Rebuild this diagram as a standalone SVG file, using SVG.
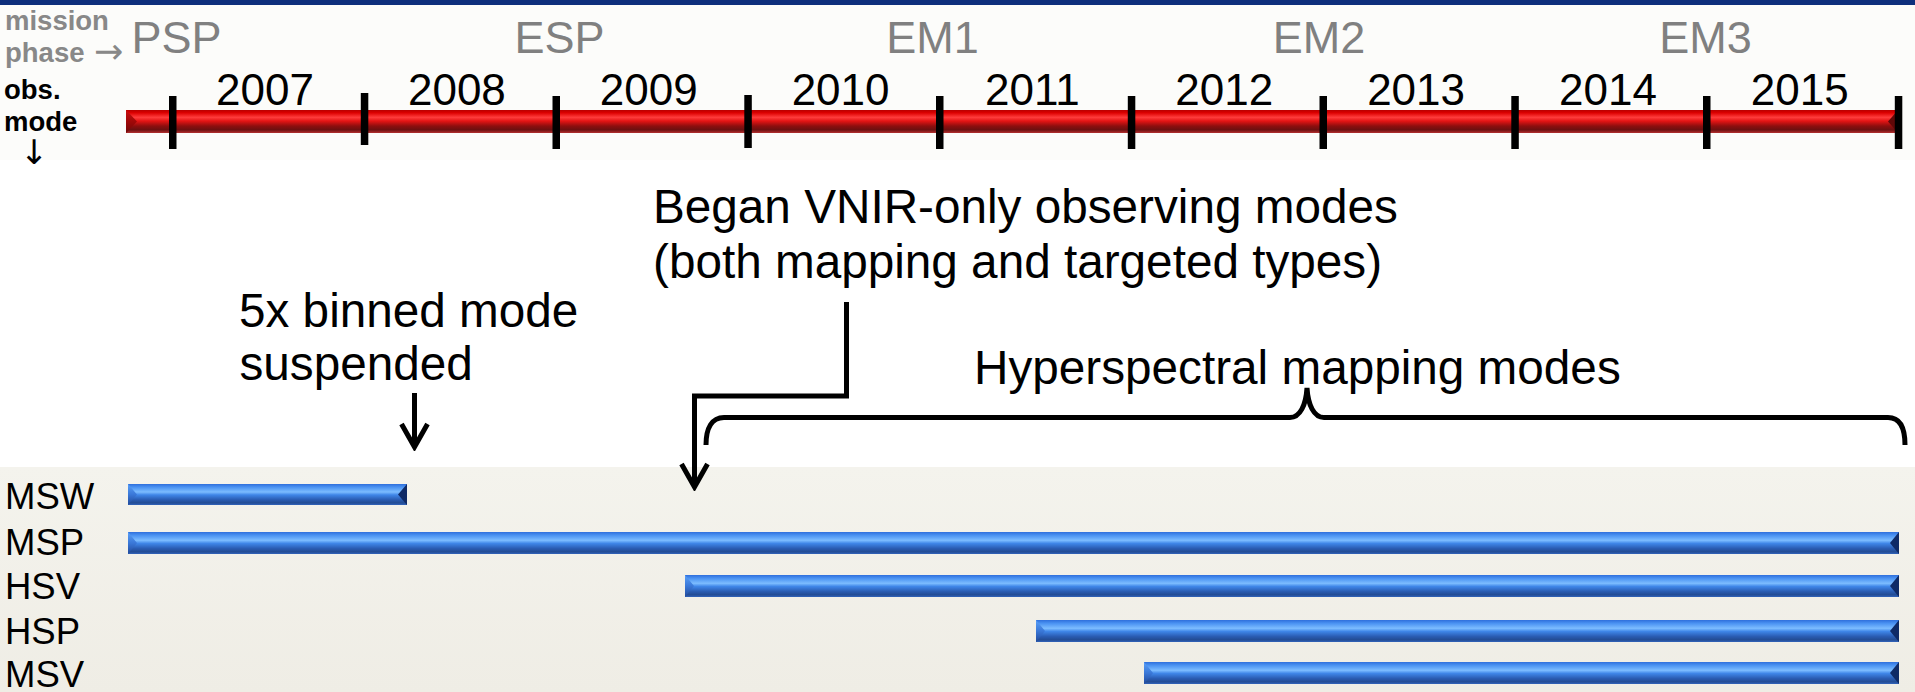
<svg xmlns="http://www.w3.org/2000/svg" width="1915" height="692" viewBox="0 0 1915 692">
<style>
.lbl{font-family:"Liberation Sans",Arial,sans-serif;}
.arrowtxt{font-family:"DejaVu Sans","Liberation Sans",sans-serif;font-weight:normal;}
.phase{font-family:"Liberation Sans",Arial,sans-serif;font-size:45px;fill:#808080;text-anchor:middle;}
.year{font-family:"Liberation Sans",Arial,sans-serif;font-size:44px;fill:#000;text-anchor:middle;}
.side{font-family:"Liberation Sans",Arial,sans-serif;font-size:27.5px;font-weight:bold;}
.ann{font-family:"Liberation Sans",Arial,sans-serif;font-size:47.7px;fill:#000;}
.mode{font-family:"Liberation Sans",Arial,sans-serif;font-size:36.5px;fill:#000;}
.tick{fill:#000;}
.bbar{fill:url(#blueG);}
.bl{fill:url(#blueL);}
.br{fill:#0f2a66;}
.conn{fill:none;stroke:#000;stroke-width:5;stroke-linejoin:miter;}
</style>
<defs>
<linearGradient id="redG" x1="0" y1="0" x2="0" y2="1">
<stop offset="0" stop-color="#b80000"/>
<stop offset="0.12" stop-color="#dc0000"/>
<stop offset="0.32" stop-color="#ff3c3c"/>
<stop offset="0.48" stop-color="#e41414"/>
<stop offset="0.7" stop-color="#8c0e0e"/>
<stop offset="0.86" stop-color="#6c1010"/>
<stop offset="1" stop-color="#b43030"/>
</linearGradient>
<linearGradient id="redL" x1="0" y1="0" x2="0" y2="1">
<stop offset="0" stop-color="#c81010"/>
<stop offset="0.5" stop-color="#a00808"/>
<stop offset="1" stop-color="#700808"/>
</linearGradient>
<linearGradient id="blueG" x1="0" y1="0" x2="0" y2="1">
<stop offset="0" stop-color="#2f6fdc"/>
<stop offset="0.15" stop-color="#4a92f2"/>
<stop offset="0.38" stop-color="#7cbcff"/>
<stop offset="0.52" stop-color="#3f86e8"/>
<stop offset="0.75" stop-color="#2a5cb2"/>
<stop offset="0.9" stop-color="#234c94"/>
<stop offset="1" stop-color="#3264bc"/>
</linearGradient>
<linearGradient id="blueL" x1="0" y1="0" x2="0" y2="1">
<stop offset="0" stop-color="#5aa0f8"/>
<stop offset="0.5" stop-color="#3a78d8"/>
<stop offset="1" stop-color="#21499a"/>
</linearGradient>
<linearGradient id="panelG" x1="0" y1="0" x2="0" y2="1">
<stop offset="0" stop-color="#f4f3ed"/>
<stop offset="1" stop-color="#efede5"/>
</linearGradient>
<marker id="arr" viewBox="-28 -16 32 32" refX="0" refY="0" markerWidth="32" markerHeight="32" markerUnits="userSpaceOnUse" orient="auto">
<path d="M -23 -13 L 0 0 L -23 13" fill="none" stroke="#000" stroke-width="5" stroke-linejoin="miter"/>
</marker>
</defs>

<rect width="1915" height="692" fill="#ffffff"/>
<rect x="0" y="5" width="1915" height="155" fill="#fcfcfa"/>
<rect x="0" y="0" width="1915" height="5" fill="#0e2f7c"/>
<rect x="0" y="467" width="1915" height="225" fill="url(#panelG)"/>

<g id="axis-labels">
<text class="side" x="5" y="30" fill="#888888">mission</text>
<text class="side" x="5" y="62" fill="#888888">phase</text>
<text class="arrowtxt" x="94" y="63" font-size="35" fill="#888888">→</text>
<text class="side" x="4" y="99" fill="#000">obs.</text>
<text class="side" x="4" y="131" fill="#000">mode</text>
<text class="arrowtxt" x="34" y="164" font-size="34" text-anchor="middle" fill="#000">↓</text>
</g>

<g id="phases">
<text class="phase" x="176.5" y="53">PSP</text>
<text class="phase" x="559.5" y="53">ESP</text>
<text class="phase" x="932.5" y="53">EM1</text>
<text class="phase" x="1319" y="53">EM2</text>
<text class="phase" x="1705.5" y="53">EM3</text>
</g>

<g id="timeline">
<rect x="126" y="110" width="1772" height="23" fill="url(#redG)"/>
<polygon points="126,110 137,121.5 126,133" fill="url(#redL)"/>
<polygon points="1898,110 1888,121.5 1898,133" fill="#600808"/>
<rect class="tick" x="169" y="96" width="7.5" height="53"/>
<rect class="tick" x="360.8" y="93" width="7.5" height="52"/>
<rect class="tick" x="552.5" y="96" width="7.5" height="53"/>
<rect class="tick" x="744.3" y="95" width="7.5" height="53"/>
<rect class="tick" x="936" y="96" width="7.5" height="53"/>
<rect class="tick" x="1127.8" y="96" width="7.5" height="53"/>
<rect class="tick" x="1319.5" y="96" width="7.5" height="53"/>
<rect class="tick" x="1511.3" y="96" width="7.5" height="53"/>
<rect class="tick" x="1703" y="96" width="7.5" height="53"/>
<rect class="tick" x="1894.8" y="96" width="7.5" height="53"/>
</g>

<g id="years">
<text class="year" x="265" y="105">2007</text>
<text class="year" x="456.9" y="105">2008</text>
<text class="year" x="648.7" y="105">2009</text>
<text class="year" x="840.6" y="105">2010</text>
<text class="year" x="1032.4" y="105">2011</text>
<text class="year" x="1224.3" y="105">2012</text>
<text class="year" x="1416.1" y="105">2013</text>
<text class="year" x="1608" y="105">2014</text>
<text class="year" x="1799.8" y="105">2015</text>
</g>

<g id="note-vnir">
<text class="ann" x="653" y="222.5">Began VNIR-only observing modes</text>
<text class="ann" x="653" y="278">(both mapping and targeted types)</text>
</g>

<g id="note-5x">
<text class="ann" x="239" y="327">5x binned mode</text>
<text class="ann" x="239.5" y="380">suspended</text>
</g>

<g id="note-hyper">
<text class="ann" x="974" y="384">Hyperspectral mapping modes</text>
</g>

<g id="connectors">
<path class="conn" d="M 414.5 393 V 447" marker-end="url(#arr)"/>
<path class="conn" d="M 846.5 302 V 396 H 694.5 V 487" marker-end="url(#arr)"/>
<path class="conn" d="M 706 445 C 706 428 712 417.5 724 417.5 L 1290 417.5 C 1300 417.5 1306 405 1307 388 C 1308 405 1314 417.5 1324 417.5 L 1888 417.5 C 1900 417.5 1905 428 1905 445" stroke-linejoin="round"/>
</g>

<g id="row-MSW">
<text class="mode" x="5" y="509">MSW</text>
<rect class="bbar" x="128" y="484" width="279" height="21"/>
<polygon class="bl" points="128,484 137,494.5 128,505"/>
<polygon class="br" points="407,484 398,494.5 407,505"/>
</g>
<g id="row-MSP">
<text class="mode" x="5" y="554.5">MSP</text>
<rect class="bbar" x="128" y="532" width="1771" height="22"/>
<polygon class="bl" points="128,532 137,543 128,554"/>
<polygon class="br" points="1899,532 1890,543 1899,554"/>
</g>
<g id="row-HSV">
<text class="mode" x="5" y="599">HSV</text>
<rect class="bbar" x="685" y="575" width="1214" height="22"/>
<polygon class="bl" points="685,575 694,586 685,597"/>
<polygon class="br" points="1899,575 1890,586 1899,597"/>
</g>
<g id="row-HSP">
<text class="mode" x="5" y="644">HSP</text>
<rect class="bbar" x="1036" y="620" width="863" height="22"/>
<polygon class="bl" points="1036,620 1045,631 1036,642"/>
<polygon class="br" points="1899,620 1890,631 1899,642"/>
</g>
<g id="row-MSV">
<text class="mode" x="5" y="687">MSV</text>
<rect class="bbar" x="1144" y="662" width="755" height="22"/>
<polygon class="bl" points="1144,662 1153,673 1144,684"/>
<polygon class="br" points="1899,662 1890,673 1899,684"/>
</g>
</svg>
